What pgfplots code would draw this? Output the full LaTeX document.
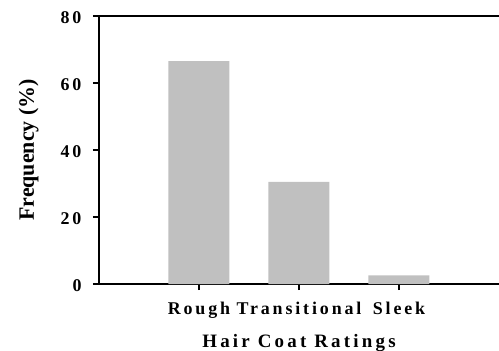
\documentclass[border=0pt]{standalone}
\usepackage{fontspec}
\setmainfont{Liberation Serif}
\newfontfamily\spacedx[LetterSpace=16]{Liberation Serif}
\newfontfamily\spacedy[LetterSpace=16]{Liberation Serif}
\newfontfamily\spacedl[LetterSpace=17]{Liberation Serif}
\usepackage{pgfplots}
\pgfplotsset{compat=1.18}
\definecolor{bargray}{HTML}{C0C0C0}
\newcommand\xtl[1]{\mbox{\spacedx\bfseries\fontsize{18}{21}\selectfont #1}}
\newcommand\ytl[1]{\mbox{\spacedy\bfseries\fontsize{18}{21}\selectfont #1}}
\begin{document}
\begin{tikzpicture}
\begin{axis}[
  at={(0bp,0bp)}, anchor=south west,
  scale only axis, width=400bp, height=268bp,
  xmin=0, xmax=4, ymin=0, ymax=80,
  axis x line*=bottom, axis y line*=left,
  axis line style={line width=1.5bp, black},
  ybar, bar width=61bp,
  xtick={1,2,3},
  xticklabels={\xtl{Rough},\xtl{Transitional},\xtl{Sleek}},
  ytick={0,20,40,60,80}, yticklabels={\ytl{0},\ytl{20},\ytl{40},\ytl{60},\ytl{80}},
  tick align=outside, major tick length=6bp,
  tick style={line width=1.5bp, black},
  xticklabel style={anchor=base, yshift=-24bp},
  yticklabel style={xshift=-8bp, yshift=-2bp},
  xlabel={\mbox{\spacedl\bfseries\fontsize{19}{22}\selectfont Hair Coat Ratings}},
  xlabel style={at={(rel axis cs:0.5,-0.2351)}, anchor=base},
  ylabel={\mbox{\bfseries\fontsize{22}{26}\selectfont Frequency (\%)}},
  ylabel style={at={(rel axis cs:-0.1625,0.5)}, anchor=base},
  clip=false,
]
\addplot[fill=bargray, draw=none] coordinates {(1,66.5) (2,30.5) (3,2.6)};
\draw[line width=1.5bp] (rel axis cs:0,1) -- (rel axis cs:1,1);
\end{axis}
\pgfresetboundingbox
\path[use as bounding box] (-99bp,-67bp) rectangle (400bp,284bp);
\end{tikzpicture}
\end{document}
